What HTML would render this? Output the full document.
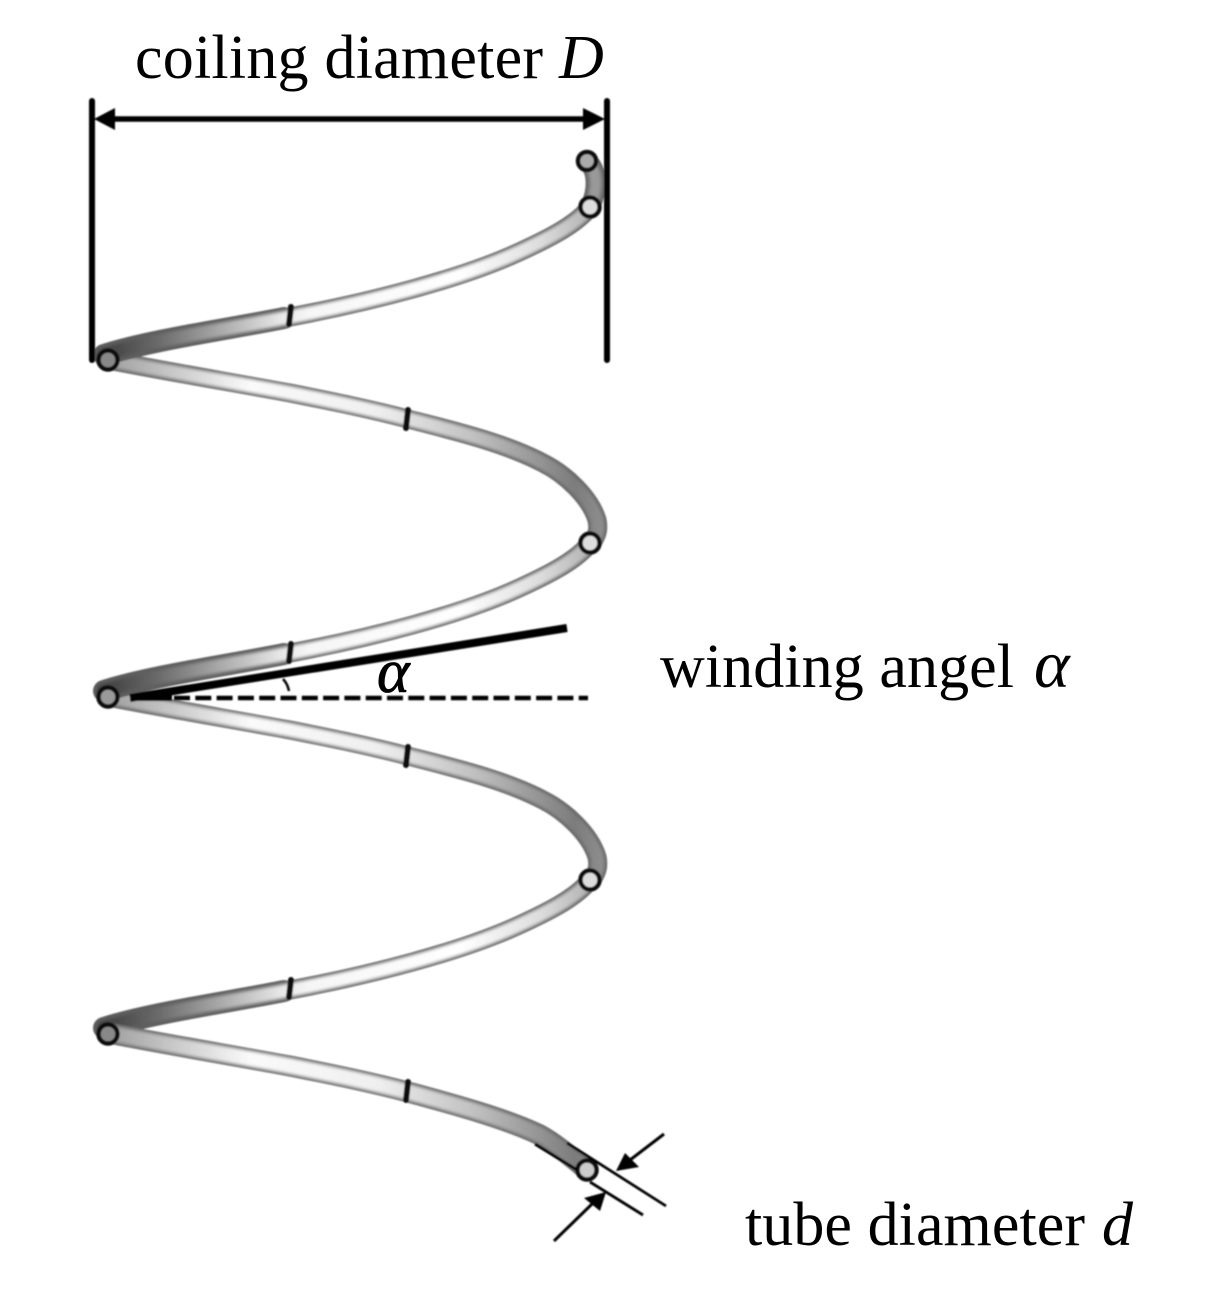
<!DOCTYPE html>
<html><head><meta charset="utf-8"><style>
html,body{margin:0;padding:0;background:#fff;width:1212px;height:1300px;overflow:hidden}
svg{display:block}
text{font-family:"Liberation Serif",serif;fill:#000;font-size:62px}
</style></head><body>
<svg width="1212" height="1300" viewBox="0 0 1212 1300" xmlns="http://www.w3.org/2000/svg">
<defs>
<filter id="b" x="-5%" y="-5%" width="110%" height="110%"><feGaussianBlur stdDeviation="0.7"/></filter>
<filter id="b2" filterUnits="userSpaceOnUse" x="0" y="0" width="1212" height="1300"><feGaussianBlur stdDeviation="1.6"/></filter>
<linearGradient id="up" gradientUnits="userSpaceOnUse" x1="100" y1="0" x2="600" y2="0">
<stop offset="0" stop-color="#3c3c3c"/><stop offset=".12" stop-color="#6c6c6c"/><stop offset=".36" stop-color="#e6e6e6"/><stop offset=".42" stop-color="#f6f6f6"/><stop offset=".72" stop-color="#fff"/><stop offset=".88" stop-color="#ddd"/><stop offset="1" stop-color="#aaa"/>
</linearGradient>
<linearGradient id="down" gradientUnits="userSpaceOnUse" x1="100" y1="0" x2="600" y2="0">
<stop offset="0" stop-color="#999"/><stop offset=".3" stop-color="#fafafa"/><stop offset=".55" stop-color="#f0f0f0"/><stop offset=".75" stop-color="#c0c0c0"/><stop offset=".95" stop-color="#7c7c7c"/><stop offset="1" stop-color="#8c8c8c"/>
</linearGradient>
<path id="pu" d="M104 355C150 340 235 328 290 317C370 302 460 279 517 253C550 238 577 224 590 207"/>
<path id="pl" d="M104 355C150 340 235 328 284 318"/>
<path id="pd" d="M108 360C170 372 230 382 290 393C330 401 370 409 408 419C455 431 505 443 543 463C565 474 590 497 597 520C599 530 597 535 592 543"/>
<g id="rise">
<use href="#pu" fill="none" stroke="#5e5e5e" stroke-width="19" stroke-linecap="round"/>
<use href="#pl" fill="none" stroke="#5e5e5e" stroke-width="22" stroke-linecap="round"/>
<use href="#pu" fill="none" stroke="url(#up)" stroke-width="14" stroke-linecap="round" filter="url(#b2)"/>
</g>
<g id="fall">
<use href="#pd" fill="none" stroke="#666" stroke-width="19"/>
<use href="#pd" fill="none" stroke="url(#down)" stroke-width="14" filter="url(#b2)"/>
</g>
<g id="marks" fill="none" stroke="#111" stroke-width="6" stroke-linecap="round">
<path d="M291 307L289 324"/>
<path d="M408 410L406 428"/>
</g>
</defs>

<g filter="url(#b)">
<!-- top stub -->
<path d="M587 161C598 170 598 190 590 207" fill="none" stroke="#666" stroke-width="20"/>
<path d="M587 161C598 170 598 190 590 207" fill="none" stroke="#999" stroke-width="12" filter="url(#b2)"/>

<use href="#fall"/>
<use href="#rise"/>
<use href="#marks"/>

<use href="#fall" y="337"/>
<use href="#rise" y="336"/>
<use href="#marks" y="337"/>

<use href="#rise" y="673"/>
<path d="M108 1033C170 1045 230 1055 290 1066C330 1074 370 1082 408 1092C445 1102 505 1118 540 1135C555 1143 575 1160 587 1170" fill="none" stroke="#666" stroke-width="21"/>
<path d="M108 1033C170 1045 230 1055 290 1066C330 1074 370 1082 408 1092C445 1102 505 1118 540 1135C555 1143 575 1160 587 1170" fill="none" stroke="url(#down)" stroke-width="16" filter="url(#b2)"/>
<path d="M291 980L289 997M408 1082L406 1100" fill="none" stroke="#111" stroke-width="6" stroke-linecap="round"/>

<!-- ends -->
<g stroke="#111" stroke-width="4.5">
<circle cx="587" cy="161" r="9" fill="#aaa"/>
<circle cx="590" cy="207" r="9.5" fill="#ddd"/>
<circle cx="108" cy="360" r="9.5" fill="#888"/>
<circle cx="590" cy="543" r="9.5" fill="#ddd"/>
<circle cx="108" cy="697" r="9.5" fill="#999"/>
<circle cx="590" cy="880" r="9.5" fill="#ddd"/>
<circle cx="108" cy="1034" r="9.5" fill="#888"/>
<circle cx="587" cy="1170" r="9.5" fill="#ccc"/>
</g>

<!-- dimension D -->
<g stroke="#000" stroke-linecap="round" fill="none">
<path d="M92 101V360" stroke-width="6"/>
<path d="M607 101V360" stroke-width="6"/>
<path d="M110 119H590" stroke-width="5.5"/>
</g>
<path d="M94 119L115 108V130Z" fill="#000"/>
<path d="M605 119L583 108V130Z" fill="#000"/>

<!-- winding angle -->
<path d="M130 698L567 628" stroke="#000" stroke-width="8" fill="none"/>
<path d="M130 698H172" stroke="#000" stroke-width="6" fill="none"/>
<path d="M174 698H588" stroke="#000" stroke-width="4.5" stroke-dasharray="16 5.3" fill="none"/>
<path d="M283 679C287 683 288 687 289 691" stroke="#000" stroke-width="2.5" fill="none"/>

<!-- tube diameter -->
<path d="M535 1144L577 1170" stroke="#000" stroke-width="3" fill="none"/>
<path d="M567 1143L666 1206" stroke="#000" stroke-width="2.8" fill="none"/>
<path d="M590 1182L643 1215" stroke="#000" stroke-width="2.8" fill="none"/>
<path d="M664 1134L630 1160" stroke="#000" stroke-width="3" fill="none"/>
<path d="M554 1241L592 1204" stroke="#000" stroke-width="3" fill="none"/>
<path d="M616 1171L625 1153L639 1167Z" fill="#000"/>
<path d="M606 1192L584 1198L600 1211Z" fill="#000"/>
</g>

<text x="135" y="78" textLength="408" lengthAdjust="spacing">coiling diameter</text>
<text x="559" y="78" font-style="italic">D</text>
<text x="660" y="687" textLength="354" lengthAdjust="spacing">winding angel</text>
<text x="1034" y="687" font-style="italic" style="font-size:68px">α</text>
<text x="745" y="1245" textLength="340" lengthAdjust="spacing">tube diameter</text>
<text x="1102" y="1245" font-style="italic">d</text>
<text x="377" y="692" font-style="italic" style="font-size:62px" stroke="#000" stroke-width="0.8">α</text>
</svg>
</body></html>
